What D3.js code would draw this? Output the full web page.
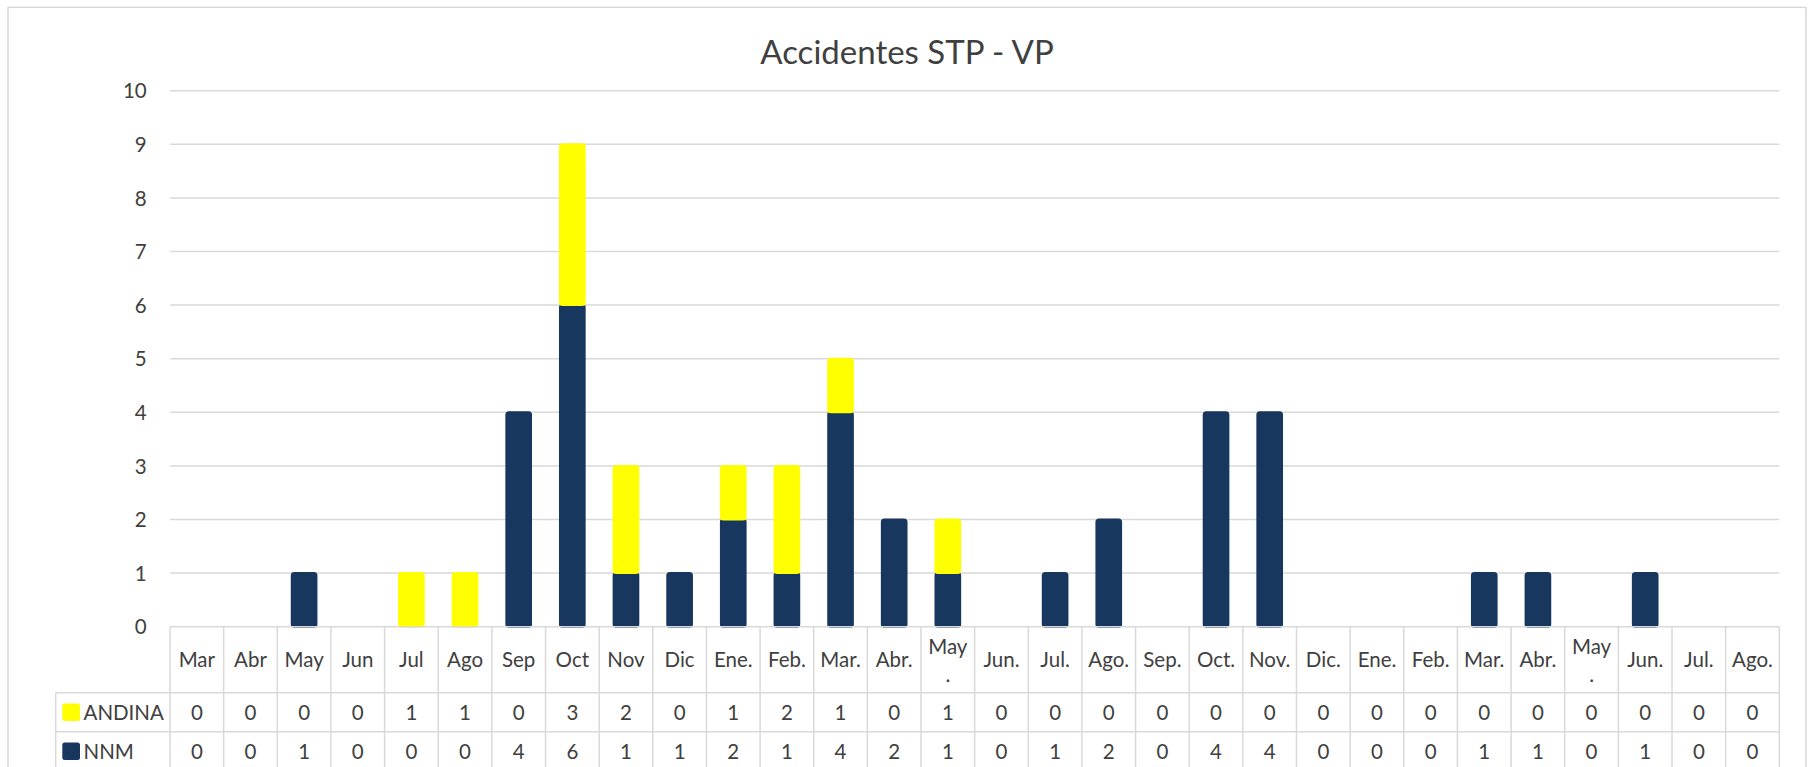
<!DOCTYPE html>
<html>
<head>
<meta charset="utf-8">
<script src="https://cdn.jsdelivr.net/npm/d3@7"></script>
<style>
  html, body { margin: 0; padding: 0; background: #ffffff; }
  svg { display: block; }
  text { font-family: Lato, "Open Sans", sans-serif; fill: #404040; }
</style>
</head>
<body>
<svg id="chart" width="1808" height="767"></svg>
<script>
const title = "Accidentes STP - VP";
const categories = ["Mar","Abr","May","Jun","Jul","Ago","Sep","Oct","Nov","Dic",
  "Ene.","Feb.","Mar.","Abr.","May.","Jun.","Jul.","Ago.","Sep.","Oct.",
  "Nov.","Dic.","Ene.","Feb.","Mar.","Abr.","May.","Jun.","Jul.","Ago."];
const andina = [0,0,0,0,1,1,0,3,2,0,1,2,1,0,1,0,0,0,0,0,0,0,0,0,0,0,0,0,0,0];
const nnm    = [0,0,1,0,0,0,4,6,1,1,2,1,4,2,1,0,1,2,0,4,4,0,0,0,1,1,0,1,0,0];
const yTicks = [0,1,2,3,4,5,6,7,8,9,10];
const seriesNames = ["NNM", "ANDINA"];
const seriesColors = { NNM: "#17375e", ANDINA: "#ffff00" };

(function () {
const W = 1808, H = 767;
const plotLeft = 170, plotRight = 1779.3, plotTop = 90.7, zeroY = 626.7;
const headerBottom = 692.7, row1Bottom = 731.7, row2Bottom = 770.7;
const legendLeft = 55.7;
const grid = "#d9d9d9";

const svg = d3.select("#chart");

// outer chart border
svg.append("rect").attr("x", 8).attr("y", 7.3).attr("width", 1798).attr("height", 780)
  .attr("fill", "#fff").attr("stroke", grid).attr("stroke-width", 1.5);

// title
svg.append("text").attr("x", 907).attr("y", 64).attr("text-anchor", "middle")
  .style("font-size", "33px").text(title);

const x = d3.scaleBand().domain(d3.range(categories.length)).range([plotLeft, plotRight]).paddingInner(0).paddingOuter(0);
const y = d3.scaleLinear().domain([0, 10]).range([zeroY, plotTop]);

// gridlines
svg.append("g").selectAll("line").data(yTicks.filter(t => t > 0)).join("line")
  .attr("x1", plotLeft).attr("x2", plotRight)
  .attr("y1", d => y(d)).attr("y2", d => y(d))
  .attr("stroke", grid).attr("stroke-width", 1.5);

// y axis labels
const yAxis = d3.axisLeft(y).tickValues(yTicks).tickSize(0).tickPadding(0).tickFormat(d3.format("d"));
const yg = svg.append("g").attr("transform", `translate(${146.7},0)`).call(yAxis);
yg.select(".domain").remove();
yg.selectAll("text").style("font-size", "20.5px").style("font-family", "Lato, 'Open Sans', sans-serif").attr("fill", "#404040").attr("dy", "0.35em");

// stacked bars
const rows = categories.map((c, i) => ({ i, NNM: nnm[i], ANDINA: andina[i] }));
const stack = d3.stack().keys(seriesNames)(rows);
const bw = x.bandwidth() * 0.46;
svg.append("g").selectAll("g").data(stack).join("g")
  .attr("fill", d => seriesColors[d.key])
  .attr("stroke", d => seriesColors[d.key])
  .selectAll("rect").data(d => d.filter(s => s[1] - s[0] > 0)).join("rect")
  .attr("x", d => x(d.data.i) + (x.bandwidth() - bw) / 2)
  .attr("width", bw)
  .attr("y", d => y(d[1]))
  .attr("height", d => y(d[0]) - y(d[1]))
  .attr("rx", 2.5)
  .attr("stroke-width", 2);

// data table lines
const tl = svg.append("g").attr("stroke", grid).attr("stroke-width", 1.5);
tl.append("line").attr("x1", plotLeft).attr("x2", plotRight).attr("y1", zeroY).attr("y2", zeroY);
tl.append("line").attr("x1", legendLeft).attr("x2", plotRight).attr("y1", headerBottom).attr("y2", headerBottom);
tl.append("line").attr("x1", legendLeft).attr("x2", plotRight).attr("y1", row1Bottom).attr("y2", row1Bottom);
tl.append("line").attr("x1", legendLeft).attr("x2", plotRight).attr("y1", row2Bottom).attr("y2", row2Bottom);
tl.append("line").attr("x1", legendLeft).attr("x2", legendLeft).attr("y1", headerBottom).attr("y2", H + 5);
tl.selectAll("line.v").data(d3.range(categories.length + 1)).join("line").attr("class", "v")
  .attr("x1", i => i < categories.length ? x(i) : plotRight)
  .attr("x2", i => i < categories.length ? x(i) : plotRight)
  .attr("y1", zeroY).attr("y2", H + 5);

// category header
const hdr = svg.append("g").style("font-size", "20.5px");
categories.forEach((c, i) => {
  const cx = x(i) + x.bandwidth() / 2;
  if (c === "May.") {
    const t = hdr.append("text").attr("x", cx).attr("text-anchor", "middle");
    t.append("tspan").attr("x", cx).attr("y", 654).text("May");
    t.append("tspan").attr("x", cx).attr("y", 682).text(".");
  } else {
    hdr.append("text").attr("x", cx).attr("y", 667).attr("text-anchor", "middle").text(c);
  }
});

// table rows
const tableRows = [
  { name: "ANDINA", values: andina, yc: 712.2 },
  { name: "NNM", values: nnm, yc: 751.2 }
];
const tg = svg.append("g").style("font-size", "20.5px");
tableRows.forEach(r => {
  tg.append("rect").attr("x", 62.3).attr("y", r.yc - 8.8).attr("width", 17.7).attr("height", 17.7)
    .attr("rx", 2.5).attr("fill", seriesColors[r.name]);
  tg.append("text").attr("x", 83.5).attr("y", r.yc).attr("dy", "0.36em").text(r.name);
  r.values.forEach((v, i) => {
    tg.append("text").attr("x", x(i) + x.bandwidth() / 2).attr("y", r.yc).attr("dy", "0.36em")
      .attr("text-anchor", "middle").text(v);
  });
});
})();
</script>
</body>
</html>
